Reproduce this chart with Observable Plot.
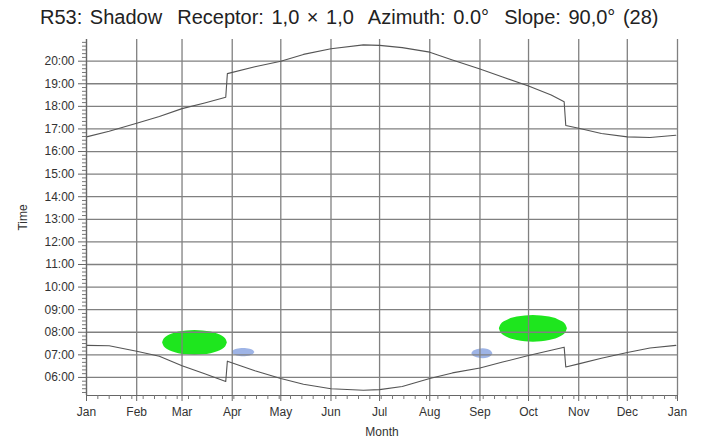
<!DOCTYPE html>
<html><head><meta charset="utf-8">
<script src="https://cdn.jsdelivr.net/npm/d3@7"></script>
<script src="https://cdn.jsdelivr.net/npm/@observablehq/plot@0.6"></script>
<style>
html,body{margin:0;padding:0;background:#fff;}
#wrap{position:relative;width:707px;height:444px;overflow:hidden;font-family:"Liberation Sans",Arial,sans-serif;}
#title{position:absolute;left:40px;top:6px;font-size:20px;word-spacing:2px;color:#222;white-space:pre;}
#chart{position:absolute;left:0;top:0;}
</style></head><body>
<div id="wrap"><div id="chart"></div><div id="title">R53: Shadow  Receptor: 1,0 × 1,0  Azimuth: 0.0°  Slope: 90,0° (28)</div></div>
<script>
// Month tick positions and labels
const monthStarts = ["2023-01-01","2023-02-01","2023-03-01","2023-04-01","2023-05-01","2023-06-01","2023-07-01","2023-08-01","2023-09-01","2023-10-01","2023-11-01","2023-12-01","2024-01-01"];
const monthLabels = ["Jan","Feb","Mar","Apr","May","Jun","Jul","Aug","Sep","Oct","Nov","Dec","Jan"];
// Hour ticks (decimal hours)
const hourTicks = [6,7,8,9,10,11,12,13,14,15,16,17,18,19,20];

// Sunset curve (decimal hours)
const sunsetDates = ["2023-01-01","2023-01-15","2023-02-01","2023-02-15","2023-03-01","2023-03-15","2023-03-28","2023-03-29","2023-04-15","2023-05-01","2023-05-15","2023-06-01","2023-06-21","2023-07-01","2023-07-15","2023-08-01","2023-08-15","2023-09-01","2023-09-15","2023-10-01","2023-10-15","2023-10-23","2023-10-24","2023-11-01","2023-11-15","2023-12-01","2023-12-15","2023-12-31"];
const sunsetTimes = [16.65,16.9,17.25,17.55,17.9,18.15,18.4,19.45,19.75,20.0,20.3,20.55,20.72,20.7,20.6,20.4,20.05,19.65,19.3,18.9,18.5,18.2,17.15,17.03,16.8,16.65,16.62,16.72];

// Sunrise curve (decimal hours)
const sunriseDates = ["2023-01-01","2023-01-15","2023-02-01","2023-02-15","2023-03-01","2023-03-15","2023-03-28","2023-03-29","2023-04-15","2023-05-01","2023-05-15","2023-06-01","2023-06-21","2023-07-01","2023-07-15","2023-08-01","2023-08-15","2023-09-01","2023-09-15","2023-10-01","2023-10-15","2023-10-23","2023-10-24","2023-11-01","2023-11-15","2023-12-01","2023-12-15","2023-12-31"];
const sunriseTimes = [7.42,7.4,7.16,6.94,6.52,6.16,5.82,6.72,6.3,5.95,5.7,5.5,5.43,5.46,5.6,5.95,6.2,6.42,6.68,6.97,7.2,7.34,6.46,6.6,6.85,7.1,7.3,7.42];

// Shadow periods (blobs): date, low time, high time
const greenSpringDates = ["2023-02-17","2023-02-18","2023-02-20","2023-02-23","2023-02-27","2023-03-04","2023-03-09","2023-03-14","2023-03-19","2023-03-23","2023-03-26","2023-03-28","2023-03-29"];
const greenSpringLow  = [7.53,7.36,7.24,7.14,7.05,7.00,6.98,7.00,7.05,7.14,7.24,7.36,7.53];
const greenSpringHigh = [7.53,7.70,7.82,7.92,8.01,8.06,8.08,8.06,8.01,7.92,7.82,7.70,7.53];

const greenAutumnDates = ["2023-09-13","2023-09-14","2023-09-16","2023-09-19","2023-09-24","2023-09-29","2023-10-04","2023-10-09","2023-10-14","2023-10-19","2023-10-22","2023-10-24","2023-10-25"];
const greenAutumnLow  = [8.15,7.97,7.84,7.73,7.63,7.58,7.56,7.58,7.63,7.73,7.84,7.97,8.15];
const greenAutumnHigh = [8.15,8.33,8.46,8.57,8.67,8.72,8.74,8.72,8.67,8.57,8.46,8.33,8.15];

const blueSpringDates = ["2023-04-01","2023-04-02","2023-04-04","2023-04-08","2023-04-12","2023-04-14","2023-04-15"];
const blueSpringLow  = [7.10,7.01,6.95,6.92,6.95,7.01,7.10];
const blueSpringHigh = [7.10,7.19,7.25,7.28,7.25,7.19,7.10];

const blueAutumnDates = ["2023-08-27","2023-08-28","2023-08-31","2023-09-03","2023-09-06","2023-09-08","2023-09-09"];
const blueAutumnLow  = [7.05,6.94,6.86,6.83,6.86,6.94,7.05];
const blueAutumnHigh = [7.05,7.16,7.24,7.27,7.24,7.16,7.05];

const yMin = 5.2, yMax = 20.96;

const parse = d3.utcParse("%Y-%m-%d");
const months = monthStarts.map(parse);
const toRows = (dates, vals) => dates.map((d, i) => ({date: parse(d), time: vals[i]}));
const toBlob = (dates, lo, hi) => dates.map((d, i) => ({date: parse(d), lo: lo[i], hi: hi[i]}));
const sunset = toRows(sunsetDates, sunsetTimes);
const sunrise = toRows(sunriseDates, sunriseTimes);
const greens = [toBlob(greenSpringDates, greenSpringLow, greenSpringHigh), toBlob(greenAutumnDates, greenAutumnLow, greenAutumnHigh)];
const blues = [toBlob(blueSpringDates, blueSpringLow, blueSpringHigh), toBlob(blueAutumnDates, blueAutumnLow, blueAutumnHigh)];

const weekTicks = d3.utcDay.range(months[0], months[12], 7).filter(d => !months.some(m => +m === +d));
const minorY = d3.range(32, 126).map(i => i / 6).filter(v => Math.abs(v - Math.round(v)) > 1e-6);
const fmtHour = h => String(h).padStart(2, "0") + ":00";

const grid = "#808080";
const chart = Plot.plot({
  width: 707, height: 444,
  marginTop: 39, marginBottom: 49, marginLeft: 86, marginRight: 30,
  x: {type: "utc", domain: [months[0], months[12]]},
  y: {domain: [yMin, yMax]},
  style: {fontFamily: "'Liberation Sans', Arial, sans-serif", fontSize: "12px", color: "#333", background: "#fff"},
  marks: [
    ...greens.map(b => Plot.areaY(b, {x: "date", y1: "lo", y2: "hi", fill: "#1ee61e", curve: "catmull-rom"})),
    ...blues.map(b => Plot.areaY(b, {x: "date", y1: "lo", y2: "hi", fill: "#93ace3", fillOpacity: 0.9, curve: "catmull-rom"})),
    Plot.ruleX(months, {stroke: grid, strokeWidth: 1.3}),
    Plot.ruleY(hourTicks, {stroke: grid, strokeWidth: 1.3}),
    Plot.line(sunrise, {x: "date", y: "time", stroke: "#555", strokeWidth: 1.1}),
    Plot.line(sunset, {x: "date", y: "time", stroke: "#555", strokeWidth: 1.1}),
    Plot.ruleX([months[0]], {stroke: "#666", strokeWidth: 1.2}),
    Plot.ruleY([yMin], {stroke: "#666", strokeWidth: 1.2}),
    Plot.axisX({ticks: months, tickFormat: (d, i) => monthLabels[months.findIndex(m => +m === +d)], tickSize: 6, tickPadding: 6, stroke: "#666", label: "Month", labelAnchor: "center", labelOffset: 40, labelArrow: "none"}),
    Plot.axisX({ticks: weekTicks, tickFormat: () => "", tickSize: 4, stroke: "#777", label: null}),
    Plot.axisY({ticks: hourTicks, tickFormat: fmtHour, tickSize: 8, tickPadding: 4, stroke: "#666", label: "Time", labelAnchor: "center", labelOffset: 68, labelArrow: "none"}),
    Plot.axisY({ticks: minorY, tickFormat: () => "", tickSize: 4, stroke: "#777", label: null})
  ]
});
document.getElementById("chart").appendChild(chart);
</script>
</body></html>
